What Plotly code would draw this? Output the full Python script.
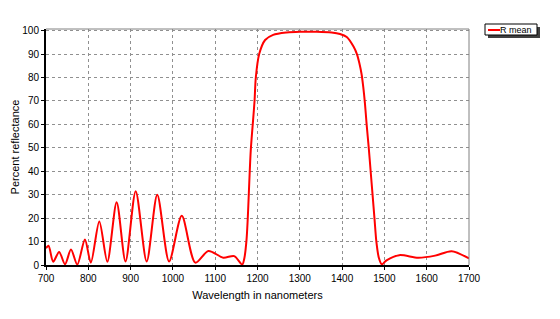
import plotly.graph_objects as go

# Data
wavelength = [700, 706, 717, 731, 745, 759, 774, 792, 806, 826, 845, 867, 888, 912, 938,
              963, 991, 1021, 1053, 1084, 1119, 1145, 1164, 1169, 1174, 1177, 1184, 1190,
              1193, 1196, 1204, 1218, 1237, 1269, 1300, 1340, 1375, 1395, 1411, 1427, 1435,
              1441, 1446, 1450, 1454, 1458, 1463, 1467.5, 1472, 1476.5, 1481, 1487, 1494,
              1505, 1535, 1580, 1620, 1659, 1700]
r_mean = [7.2, 8.2, 1.4, 5.6, 0.3, 6.6, 0.2, 10.9, 1.0, 18.6, 1.4, 26.8, 1.5, 31.5, 1.5,
          30.0, 1.5, 21.0, 1.0, 6.0, 3.1, 3.8, 0.2, 3.0, 10.6, 20.0, 48.7, 62.8,
          70.0, 80.0, 90.0, 96.0, 98.2, 99.2, 99.5, 99.5, 99.2, 98.6, 97.3, 93.2, 90.0,
          86.0, 81.5, 76.0, 69.0, 60.0, 50.0, 40.0, 30.0, 20.0, 10.0, 3.0, 0.3,
          2.0, 4.2, 3.1, 4.0, 5.9, 2.8]

x_ticks = list(range(700, 1701, 100))
y_ticks = list(range(0, 101, 10))
legend_label = "R mean"

font = "Liberation Sans, Arial, sans-serif"

fig = go.Figure()
fig.add_trace(go.Scatter(
    x=wavelength, y=r_mean, mode="lines", name=legend_label,
    line=dict(color="#ff0000", width=2, shape="spline", smoothing=0.8),
    showlegend=False,
))

fig.update_layout(
    width=560, height=319,
    margin=dict(l=46, r=91, t=29, b=54),
    paper_bgcolor="white", plot_bgcolor="white",
    font=dict(family=font, size=10, color="#000000"),
    xaxis=dict(
        range=[700, 1700], tickvals=x_ticks, ticktext=[str(v) for v in x_ticks],
        showgrid=True, gridcolor="#909090", griddash="dot", gridwidth=1,
        showline=True, linecolor="#000000", linewidth=2,
        ticks="outside", ticklen=3, tickcolor="#000000",
        zeroline=False, automargin=False,
        title=dict(text="Wavelength in nanometers", font=dict(size=11, family=font), standoff=8),
        tickfont=dict(size=10, family=font),
    ),
    yaxis=dict(
        range=[0, 100.7], tickvals=y_ticks, ticktext=[str(v) for v in y_ticks],
        showgrid=True, gridcolor="#909090", griddash="dot", gridwidth=1,
        showline=True, linecolor="#000000", linewidth=2,
        ticks="outside", ticklen=3, tickcolor="#000000",
        zeroline=False, automargin=False,
        title=dict(text="Percent reflectance", font=dict(size=11, family=font), standoff=0),
        tickfont=dict(size=10, family=font),
    ),
)

# top and right frame lines (thin gray)
fig.add_shape(type="line", xref="paper", yref="paper", x0=0, x1=1, y0=1, y1=1,
              line=dict(color="#808080", width=1))
fig.add_shape(type="line", xref="paper", yref="paper", x0=1, x1=1, y0=0, y1=1,
              line=dict(color="#808080", width=1))

# legend box (manual, to match the small box with shadow)
def px_x(p):
    return (p - 46) / (469 - 46)

def px_y(p):
    return (265 - p) / (265 - 29)

fig.add_shape(type="rect", xref="paper", yref="paper",
              x0=px_x(488), x1=px_x(540), y0=px_y(38), y1=px_y(27),
              fillcolor="#404040", line=dict(width=0))
fig.add_shape(type="rect", xref="paper", yref="paper",
              x0=px_x(485), x1=px_x(537), y0=px_y(35), y1=px_y(24),
              fillcolor="white", line=dict(color="#000000", width=1))
fig.add_shape(type="line", xref="paper", yref="paper",
              x0=px_x(488), x1=px_x(500), y0=px_y(30), y1=px_y(30),
              line=dict(color="#ff0000", width=2))
fig.add_annotation(xref="paper", yref="paper", x=px_x(499), y=px_y(30),
                   text=legend_label, showarrow=False, xanchor="left", yanchor="middle",
                   borderpad=0, font=dict(size=9, family=font, color="#000000"))

fig.write_html("out.html")
